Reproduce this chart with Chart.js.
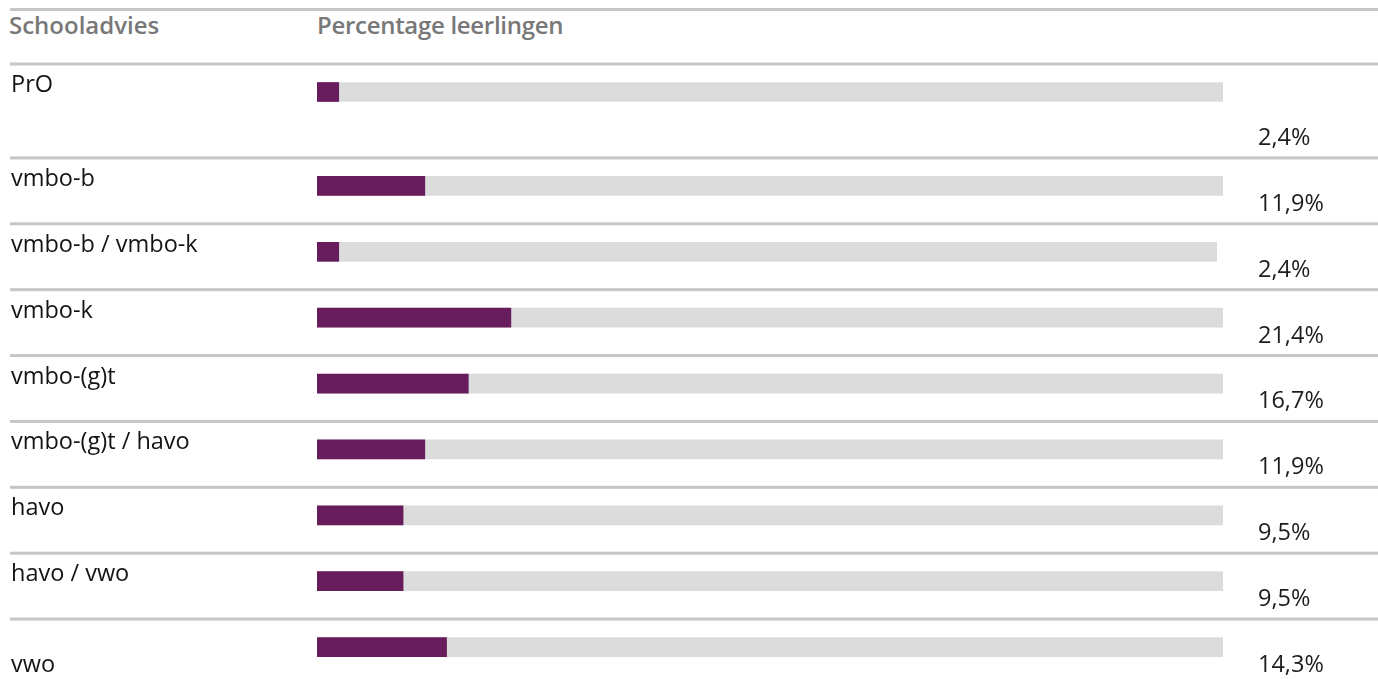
<!DOCTYPE html>
<html>
<head>
<meta charset="utf-8">
<script src="https://cdn.jsdelivr.net/npm/chart.js@4.4.1/dist/chart.umd.min.js"></script>
<style>
  html, body { margin:0; padding:0; width:1378px; height:679px; overflow:hidden; background:#ffffff; }
  body { position:relative; font-family:"Open Sans", sans-serif; }
  .hline { position:absolute; left:10px; right:0; height:3px; background:#c6c6c6; }
  .head { position:absolute; top:13px; font-size:24px; line-height:24px; font-weight:600; color:#787878; white-space:nowrap; }
  .box { position:absolute; left:0; width:1378px; }
  .box canvas { display:block; }
</style>
</head>
<body>
<div class="hline" style="top:8px"></div>
<div class="head" style="left:9px">Schooladvies</div>
<div class="head" style="left:317px;letter-spacing:-0.3px">Percentage leerlingen</div>
<div class="box" style="top:45px;height:120px"><canvas id="chartA" width="1378" height="120"></canvas></div>
<div class="box" style="top:153px;height:527px"><canvas id="chartB" width="1378" height="527"></canvas></div>
<script>
// ---- data ----
const categories = ["PrO", "vmbo-b", "vmbo-b / vmbo-k", "vmbo-k", "vmbo-(g)t", "vmbo-(g)t / havo", "havo", "havo / vwo", "vwo"];
const percentages = [2.4, 11.9, 2.4, 21.4, 16.7, 11.9, 9.5, 9.5, 14.3];
const trackValues = [100, 100, 99.3, 100, 100, 100, 100, 100, 100];
const axisMin = 0;
const axisMax = 100;

// ---- styles ----
const PURPLE = "#671c5b";
const TRACK = "#dcdcdc";
const LINE = "#c6c6c6";
const LABEL_FONT = "23.5px 'Open Sans', sans-serif";

function fmt(v) { return v.toFixed(1).replace(".", ",") + "%"; }

const rowPlugin = {
  id: "rowDecor",
  afterDatasetsDraw(chart) {
    const ctx = chart.ctx;
    const y = chart.scales.y;
    const labels = chart.data.labels;
    const vals = chart.data.datasets[0].data;
    const band = (chart.chartArea.bottom - chart.chartArea.top) / labels.length;
    const isLastChart = chart.canvas.id === "chartB";
    ctx.save();
    for (let i = 0; i < labels.length; i++) {
      const cy = y.getPixelForValue(i);
      const rowTop = cy - 28;
      const pctBase = rowTop + band - 13;
      // separator line at top of row
      ctx.fillStyle = LINE;
      ctx.fillRect(10, rowTop - 1.5, chart.width - 10, 3);
      // category label
      ctx.font = LABEL_FONT;
      ctx.fillStyle = "#141414";
      ctx.textAlign = "left";
      ctx.textBaseline = "alphabetic";
      const lastRow = isLastChart && i === labels.length - 1;
      ctx.fillText(labels[i], 11, lastRow ? pctBase : cy);
      // value text
      ctx.fillStyle = "#1c1c1c";
      ctx.fillText(fmt(vals[i]), 1258, pctBase);
    }
    ctx.restore();
  }
};

function makeChart(id, from, to, padBottom) {
  return new Chart(document.getElementById(id), {
    type: "bar",
    data: {
      labels: categories.slice(from, to),
      datasets: [
        { label: "Percentage leerlingen", data: percentages.slice(from, to), backgroundColor: PURPLE,
          barThickness: 19, grouped: false, order: 0, borderWidth: 0 },
        { label: "track", data: trackValues.slice(from, to), backgroundColor: TRACK,
          barThickness: 19, grouped: false, order: 1, borderWidth: 0 }
      ]
    },
    options: {
      indexAxis: "y",
      responsive: false,
      animation: false,
      layout: { padding: { left: 317, right: 155, top: 0, bottom: padBottom } },
      plugins: { legend: { display: false }, tooltip: { enabled: false }, title: { display: false } },
      scales: {
        x: { display: false, min: axisMin, max: axisMax },
        y: { display: false, offset: true }
      }
    },
    plugins: [rowPlugin]
  });
}

makeChart("chartA", 0, 1, 26);
makeChart("chartB", 1, categories.length, 0);
</script>
</body>
</html>
